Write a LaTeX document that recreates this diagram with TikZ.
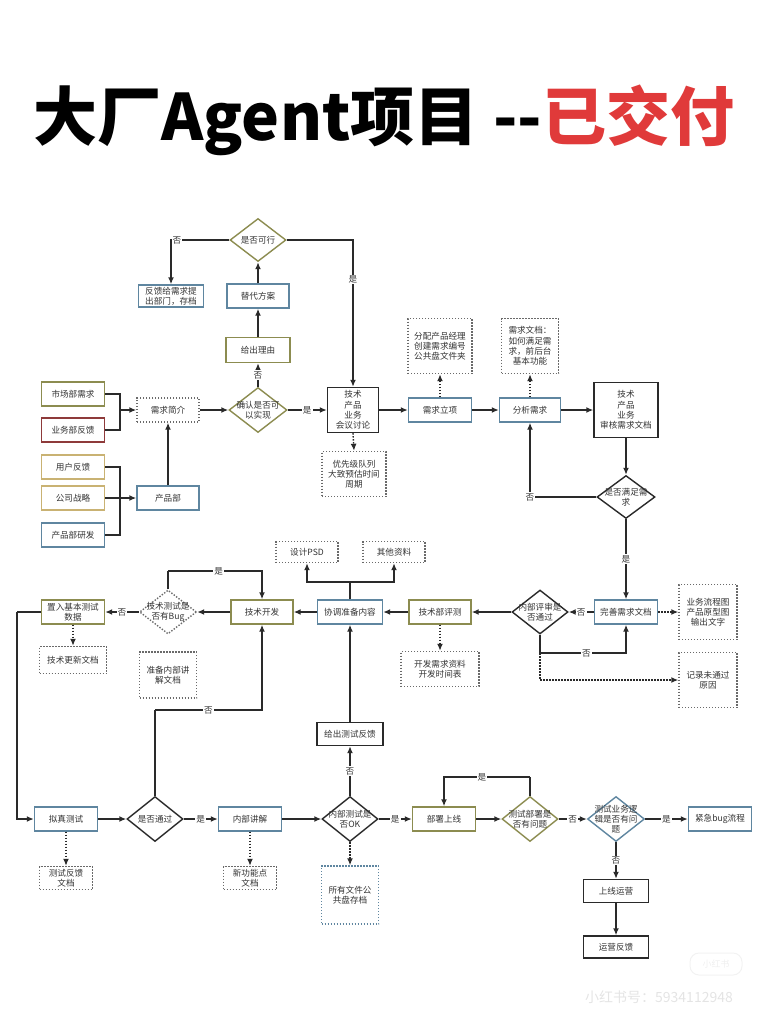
\documentclass[tikz,border=0pt]{standalone}
\usepackage{fontspec}
\newfontfamily\cjk{Noto Sans CJK SC}
\usetikzlibrary{shapes.geometric,arrows.meta}
\definecolor{olivec}{HTML}{8C8C50}
\definecolor{bluec}{HTML}{5F86A0}
\definecolor{redc}{HTML}{8E3A3A}
\definecolor{tanc}{HTML}{C9B273}
\definecolor{blackc}{HTML}{2A2A2A}
\definecolor{dotc}{HTML}{6A6A6A}
\definecolor{textc}{HTML}{333333}
\definecolor{titlered}{HTML}{E03A3A}
\definecolor{wm}{HTML}{E4E4E4}
\begin{document}
\begin{tikzpicture}[x=1pt,y=-1pt,
  box/.style={draw, line width=1.4pt, fill=white, minimum width=63pt, minimum height=24pt,
    inner sep=1pt, align=center, font=\cjk\fontsize{8.6}{10.2}\selectfont, text=textc},
  ob/.style={box, draw=olivec},
  bb/.style={box, draw=bluec},
  rb/.style={box, draw=redc},
  tb/.style={box, draw=tanc},
  kb/.style={box, draw=blackc},
  db/.style={box, draw=dotc, dash pattern=on 1.4pt off 1.6pt},
  dia/.style={diamond, draw=blackc, line width=1.4pt, fill=white, minimum width=57pt,
    minimum height=45pt, inner sep=0pt},
  dlab/.style={font=\cjk\fontsize{8.6}{10.2}\selectfont, text=textc, align=center, inner sep=0pt},
  arr/.style={draw=blackc, line width=1.4pt, -{Latex[length=7pt,width=6pt]}},
  darr/.style={arr, dash pattern=on 1.5pt off 1.5pt},
  ln/.style={draw=blackc, line width=1.4pt},
  lbl/.style={fill=white, font=\cjk\fontsize{8.6}{10.2}\selectfont, text=textc, inner sep=1pt}
]
\useasboundingbox (0,0) rectangle (768,1024);

% title
\node[font=\cjk\bfseries\fontsize{64}{70}\selectfont, inner sep=0pt] (title) at (384,120)
  {大厂Agent项目 -{}-\textcolor{titlered}{已交付}};

% top
\node[dia, draw=olivec, minimum width=56pt, minimum height=43pt, label={[dlab]center:是否可行}] (feas) at (258,240) {};
\node[bb, minimum width=65pt, minimum height=22pt] (fb) at (171,296) {反馈给需求提\\出部门，存档};
\node[bb, minimum width=62pt] (alt) at (258,296) {替代方案};
\node[ob, minimum width=64pt, minimum height=25pt] (reason) at (258,350) {给出理由};

% left sources
\node[ob] (mkt) at (73,394) {市场部需求};
\node[rb] (biz) at (73,430) {业务部反馈};
\node[tb] (user) at (73,467) {用户反馈};
\node[tb] (strat) at (73,498) {公司战略};
\node[bb] (rnd) at (73,535) {产品部研发};
\node[db, minimum width=62pt] (brief) at (168,410) {需求简介};
\node[bb, minimum width=62pt] (prod) at (168,498) {产品部};
\node[dia, draw=olivec, minimum width=58pt, label={[dlab]center:确认是否可\\以实现}] (conf) at (258,410) {};

% meeting row
\node[kb, minimum width=51pt, minimum height=45pt] (meet) at (353,410) {技术\\产品\\业务\\会议讨论};
\node[db, minimum width=64pt, minimum height=45pt] (prio) at (354,474) {优先级队列\\大致预估时间\\周期};
\node[bb] (proj) at (440,410) {需求立项};
\node[db, minimum width=64pt, minimum height=55pt] (assign) at (440,346) {分配产品经理\\创建需求编号\\公共盘文件夹};
\node[bb, minimum width=61pt] (ana) at (530,410) {分析需求};
\node[db, minimum width=57pt, minimum height=55pt] (doc) at (530,346) {需求文档：\\如何满足需\\求，前后台\\基本功能};
\node[kb, minimum width=64pt, minimum height=55pt] (audit) at (626,410) {技术\\产品\\业务\\审核需求文档};
\node[dia, minimum width=58pt, minimum height=43pt, label={[dlab]center:是否满足需\\求}] (meets) at (626,497) {};

% middle row
\node[bb] (perf) at (626,612) {完善需求文档};
\node[db, minimum width=58pt, minimum height=55pt] (flow) at (708,612) {业务流程图\\产品原型图\\输出文字};
\node[db, minimum width=58pt, minimum height=55pt] (rec) at (708,680) {记录未通过\\原因};
\node[dia, minimum width=56pt, minimum height=44pt, label={[dlab]center:内部评审是\\否通过}] (rev) at (540,612) {};
\node[ob, minimum width=62pt] (teval) at (440,612) {技术部评测};
\node[db, minimum width=78pt, minimum height=35pt] (devdoc) at (440,669) {开发需求资料\\开发时间表};
\node[bb, minimum width=65pt] (coord) at (350,612) {协调准备内容};
\node[db, minimum width=62pt, minimum height=21pt] (psd) at (307,552) {设计PSD};
\node[db, minimum width=62pt, minimum height=21pt] (other) at (394,552) {其他资料};
\node[ob, minimum width=62pt] (dev) at (262,612) {技术开发};
\node[dia, draw=dotc, dash pattern=on 1.4pt off 1.6pt, minimum width=57pt, minimum height=44pt, label={[dlab]center:技术测试是\\否有Bug}] (bug) at (168,612) {};
\node[ob] (place) at (73,612) {置入基本测试\\数据};
\node[db, minimum width=67pt, minimum height=27pt] (tupd) at (73,660) {技术更新文档};
\node[db, minimum width=57pt, minimum height=46pt] (prep) at (168,675) {准备内部讲\\解文档};

% bottom row
\node[bb] (sim) at (66,819) {拟真测试};
\node[db, minimum width=53pt, minimum height=23pt] (simdoc) at (66,878) {测试反馈\\文档};
\node[dia, minimum width=56pt, label={[dlab]center:是否通过}] (pass) at (155,819) {};
\node[bb] (expl) at (250,819) {内部讲解};
\node[db, minimum width=53pt, minimum height=23pt] (newf) at (250,878) {新功能点\\文档};
\node[dia, minimum width=56pt, label={[dlab]center:内部测试是\\否OK}] (ok) at (350,819) {};
\node[kb, minimum width=66pt, minimum height=23pt] (tfb) at (350,734) {给出测试反馈};
\node[db, draw=bluec, minimum width=57pt, minimum height=58pt] (arch) at (350,895) {所有文件公\\共盘存档};
\node[ob] (deploy) at (444,819) {部署上线};
\node[dia, draw=olivec, minimum width=56pt, label={[dlab]center:测试部署是\\否有问题}] (tdep) at (530,819) {};
\node[dia, draw=bluec, minimum width=57pt, label={[dlab]center:测试业务逻\\辑是否有问\\题}] (logic) at (616,819) {};
\node[bb] (urgent) at (720,819) {紧急bug流程};
\node[kb, minimum width=65pt, minimum height=23pt] (ops) at (616,891) {上线运营};
\node[kb, minimum width=65pt, minimum height=22pt] (opsfb) at (616,947) {运营反馈};

% watermark
\node[draw=wm!50, line width=1pt, rounded corners=9pt, minimum width=52pt, minimum height=22pt,
  font=\cjk\fontsize{9}{10}\selectfont, text=wm!60] (logo) at (716,964) {小红书};
\node[font=\cjk\fontsize{14}{16}\selectfont, text=wm] (wmark) at (659,997) {小红书号：5934112948};

% junction coordinates
\coordinate (j1) at (120,410);
\coordinate (j2) at (120,498);
\coordinate (r1) at (540,653);
\coordinate (c1) at (350,582);
\coordinate (b1) at (168,571);
\coordinate (p1) at (17,612);
\coordinate (q1) at (155,710);
\coordinate (s1) at (530,777);

% connectors: top
\draw[arr] (feas.west) -| node[lbl,pos=0.45]{否} (fb.north);
\draw[arr] (feas.east) -| node[lbl,pos=0.635]{是} (meet.north);
\draw[arr] (alt.north) -- (feas.south);
\draw[arr] (reason.north) -- (alt.south);
\draw[arr] (conf.north) -- node[lbl]{否} (reason.south);

% left
\draw[ln] (mkt.east) -| (j1);
\draw[ln] (biz.east) -| (j1);
\draw[arr] (j1) -- (brief.west);
\draw[ln] (user.east) -| (j2);
\draw[ln] (rnd.east) -| (j2);
\draw[arr] (strat.east) -- (prod.west);
\draw[arr] (prod.north) -- (brief.south);
\draw[arr] (brief.east) -- (conf.west);
\draw[arr] (conf.east) -- node[lbl]{是} (meet.west);

% meeting row
\draw[darr] (meet.south) -- (prio.north);
\draw[arr] (meet.east) -- (proj.west);
\draw[darr] (proj.north) -- (assign.south);
\draw[arr] (proj.east) -- (ana.west);
\draw[darr] (ana.north) -- (doc.south);
\draw[arr] (ana.east) -- (audit.west);
\draw[arr] (audit.south) -- (meets.north);
\draw[arr] (meets.west) -| node[lbl,pos=0.5]{否} (ana.south);
\draw[arr] (meets.south) -- node[lbl]{是} (perf.north);

% middle row
\draw[arr] (perf.west) -- node[lbl]{否} (rev.east);
\draw[darr] (perf.east) -- (flow.west);
\draw[ln] (rev.south) -- (r1);
\draw[arr] (r1) -| node[lbl,pos=0.27]{否} (perf.south);
\draw[darr] (r1) |- (rec.west);
\draw[arr] (rev.west) -- (teval.east);
\draw[darr] (teval.south) -- (devdoc.north);
\draw[arr] (teval.west) -- (coord.east);
\draw[ln] (coord.north) -- (c1);
\draw[arr] (c1) -| (psd.south);
\draw[arr] (c1) -| (other.south);
\draw[arr] (coord.west) -- (dev.east);
\draw[arr] (dev.west) -- (bug.east);
\draw[ln] (bug.north) -- (b1);
\draw[arr] (b1) -| node[lbl,pos=0.27]{是} (dev.north);
\draw[arr] (bug.west) -- node[lbl]{否} (place.east);
\draw[darr] (place.south) -- (tupd.north);
\draw[ln] (place.west) -- (p1);
\draw[arr] (p1) |- (sim.west);

% bottom row
\draw[darr] (sim.south) -- (simdoc.north);
\draw[arr] (sim.east) -- (pass.west);
\draw[ln] (pass.north) -- (q1);
\draw[arr] (q1) -| node[lbl,pos=0.25]{否} (dev.south);
\draw[arr] (pass.east) -- node[lbl]{是} (expl.west);
\draw[darr] (expl.south) -- (newf.north);
\draw[arr] (expl.east) -- (ok.west);
\draw[arr] (ok.north) -- node[lbl]{否} (tfb.south);
\draw[arr] (tfb.north) -- (coord.south);
\draw[darr] (ok.south) -- (arch.north);
\draw[arr] (ok.east) -- node[lbl]{是} (deploy.west);
\draw[arr] (deploy.east) -- (tdep.west);
\draw[ln] (tdep.north) -- (s1);
\draw[arr] (s1) -| node[lbl,pos=0.28]{是} (deploy.north);
\draw[arr] (tdep.east) -- node[lbl]{否} (logic.west);
\draw[arr] (logic.east) -- node[lbl]{是} (urgent.west);
\draw[arr] (logic.south) -- node[lbl]{否} (ops.north);
\draw[arr] (ops.south) -- (opsfb.north);
\end{tikzpicture}
\end{document}
